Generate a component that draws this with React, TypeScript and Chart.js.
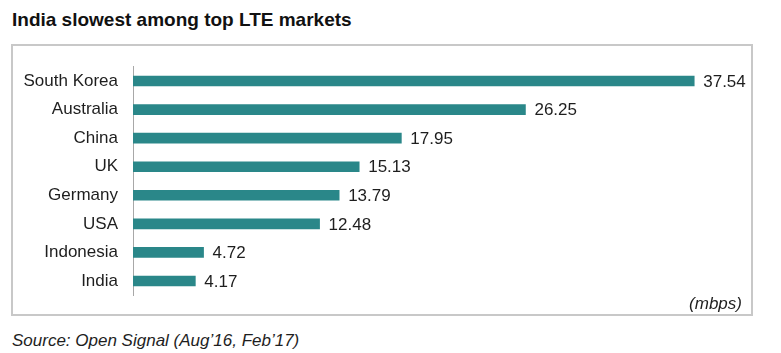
import React, { useEffect, useRef } from "react";
import { Chart, registerables } from "chart.js";

Chart.register(...registerables);

const categories = ["South Korea", "Australia", "China", "UK", "Germany", "USA", "Indonesia", "India"];
const speeds = [37.54, 26.25, 17.95, 15.13, 13.79, 12.48, 4.72, 4.17];
const valueLabels = ["37.54", "26.25", "17.95", "15.13", "13.79", "12.48", "4.72", "4.17"];

const FONT = '"Liberation Sans", Arial, Helvetica, sans-serif';

const valueLabelPlugin = {
  id: "valueLabels",
  afterDatasetsDraw(chart: any) {
    const ctx = chart.ctx;
    const meta = chart.getDatasetMeta(0);
    ctx.save();
    ctx.font = `17px ${FONT}`;
    ctx.fillStyle = "#1e1e1e";
    ctx.textAlign = "left";
    ctx.textBaseline = "middle";
    meta.data.forEach((bar: any, i: number) => {
      ctx.fillText(valueLabels[i], bar.x + 9, bar.y + 1);
    });
    ctx.restore();
  },
};

export default function App() {
  const ref = useRef<HTMLCanvasElement | null>(null);

  useEffect(() => {
    if (!ref.current) return;
    const chart = new Chart(ref.current, {
      type: "bar",
      data: {
        labels: categories,
        datasets: [
          {
            data: speeds,
            backgroundColor: "#2a8789",
            borderWidth: 0,
            barThickness: 10,
          },
        ],
      },
      options: {
        indexAxis: "y",
        animation: false,
        responsive: false,
        maintainAspectRatio: false,
        layout: { padding: { top: 6.7, bottom: 4.7, right: 50, left: 0 } },
        plugins: {
          legend: { display: false },
          tooltip: { enabled: false },
          title: { display: false },
        },
        scales: {
          x: {
            display: false,
            min: 0,
            max: 40,
          },
          y: {
            afterFit: (scale: any) => {
              scale.width = 133;
              scale.paddingTop = 0;
              scale.paddingBottom = 0;
            },
            grid: { display: false, drawTicks: false },
            border: { display: true, color: "#a8a8a8", width: 1 },
            ticks: {
              padding: 15,
              color: "#1e1e1e",
              font: { family: FONT, size: 17 },
            },
          },
        },
      },
      plugins: [valueLabelPlugin],
    });
    return () => chart.destroy();
  }, []);

  return (
    <div
      style={{
        position: "absolute",
        left: 0,
        top: 0,
        width: 781,
        height: 353,
        background: "#ffffff",
        fontFamily: FONT,
        overflow: "hidden",
      }}
    >
      <div
        style={{
          position: "absolute",
          left: 12,
          top: 10,
          fontSize: 19,
          lineHeight: "19px",
          fontWeight: "bold",
          color: "#111",
          whiteSpace: "nowrap",
        }}
      >
        India slowest among top LTE markets
      </div>
      <div
        style={{
          position: "absolute",
          left: 11,
          top: 44,
          width: 742,
          height: 272,
          boxSizing: "border-box",
          border: "2px solid #c8c8c8",
        }}
      />
      <canvas
        ref={ref}
        width={781}
        height={240}
        style={{ position: "absolute", left: 0, top: 60, width: 781, height: 240 }}
      />
      <div
        style={{
          position: "absolute",
          right: 39,
          top: 295,
          fontSize: 17,
          lineHeight: "17px",
          fontStyle: "italic",
          color: "#1e1e1e",
          whiteSpace: "nowrap",
        }}
      >
        (mbps)
      </div>
      <div
        style={{
          position: "absolute",
          left: 12,
          top: 332,
          fontSize: 17,
          lineHeight: "17px",
          fontStyle: "italic",
          color: "#1e1e1e",
          whiteSpace: "nowrap",
        }}
      >
        Source: Open Signal (Aug’16, Feb’17)
      </div>
    </div>
  );
}
